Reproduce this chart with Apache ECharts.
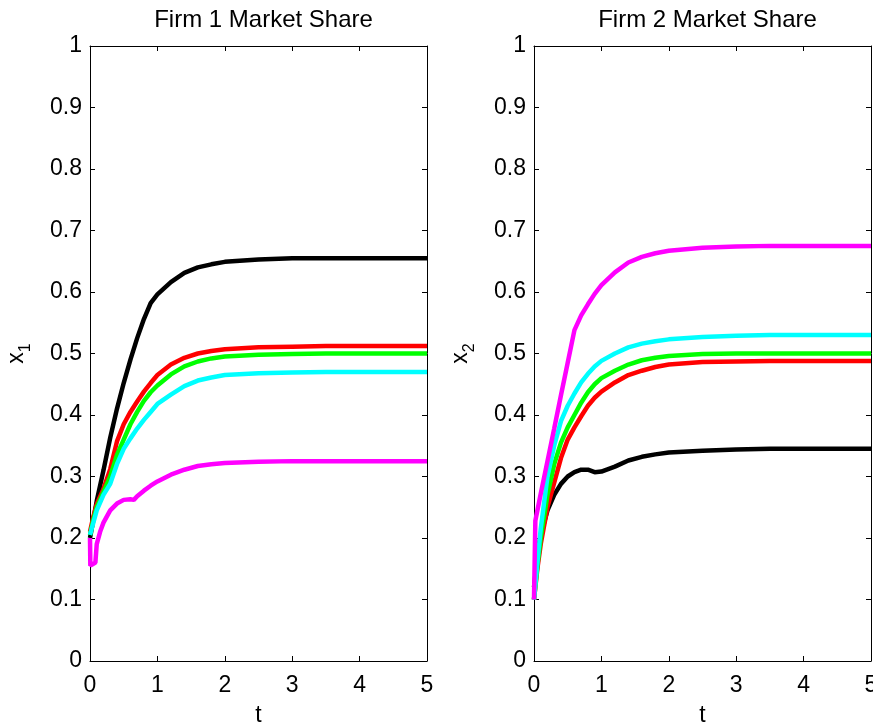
<!DOCTYPE html>
<html>
<head>
<meta charset="utf-8">
<title>Market Share</title>
<script src="https://cdn.jsdelivr.net/npm/echarts@6/dist/echarts.min.js"></script>
<style>
  html, body { margin: 0; padding: 0; background: #fff; }
  #chart { width: 873px; height: 722px; }
</style>
</head>
<body>
<div id="chart"></div>
<script>
// time grid shared by most trajectories
const T = [0, 0.05, 0.1, 0.2, 0.3, 0.4, 0.5, 0.6, 0.7, 0.8, 0.9, 1.0, 1.2, 1.4, 1.6, 1.8, 2.0, 2.5, 3.0, 3.5, 4.0, 4.5, 5.0];

// Firm 1 market share x1(t)
const firm1Black = [0.20, 0.23, 0.26, 0.31, 0.363, 0.41, 0.452, 0.49, 0.525, 0.556, 0.582, 0.596, 0.616, 0.631, 0.640, 0.645, 0.649, 0.653, 0.655, 0.655, 0.655, 0.655, 0.655];
const firm1Red   = [0.21, 0.235, 0.255, 0.28, 0.312, 0.357, 0.385, 0.405, 0.422, 0.438, 0.452, 0.465, 0.482, 0.493, 0.500, 0.504, 0.507, 0.510, 0.511, 0.512, 0.512, 0.512, 0.512];
const firm1Green = [0.205, 0.23, 0.25, 0.275, 0.30, 0.335, 0.36, 0.385, 0.405, 0.423, 0.437, 0.448, 0.466, 0.479, 0.487, 0.492, 0.495, 0.498, 0.499, 0.500, 0.500, 0.500, 0.500];
const firm1Cyan  = [0.205, 0.225, 0.245, 0.27, 0.288, 0.32, 0.345, 0.362, 0.378, 0.392, 0.405, 0.418, 0.433, 0.447, 0.456, 0.461, 0.465, 0.468, 0.469, 0.470, 0.470, 0.470, 0.470];
const tMagenta1  = [0, 0.005, 0.08, 0.1, 0.15, 0.2, 0.3, 0.4, 0.5, 0.6, 0.65, 0.7, 0.8, 0.9, 1.0, 1.2, 1.4, 1.6, 1.8, 2.0, 2.5, 3.0, 3.5, 4.0, 4.5, 5.0];
const firm1Magenta = [0.20, 0.155, 0.16, 0.19, 0.21, 0.225, 0.245, 0.256, 0.262, 0.263, 0.262, 0.268, 0.277, 0.285, 0.292, 0.303, 0.311, 0.317, 0.320, 0.322, 0.324, 0.325, 0.325, 0.325, 0.325, 0.325];

// Firm 2 market share x2(t)
const firm2Black = [0.12, 0.17, 0.205, 0.245, 0.27, 0.288, 0.30, 0.307, 0.311, 0.311, 0.307, 0.308, 0.316, 0.326, 0.332, 0.336, 0.339, 0.342, 0.344, 0.345, 0.345, 0.345, 0.345];
const firm2Red   = [0.10, 0.15, 0.19, 0.25, 0.29, 0.33, 0.36, 0.38, 0.398, 0.415, 0.428, 0.438, 0.453, 0.465, 0.472, 0.478, 0.482, 0.486, 0.487, 0.488, 0.488, 0.488, 0.488];
const firm2Green = [0.10, 0.155, 0.20, 0.27, 0.32, 0.355, 0.38, 0.40, 0.42, 0.437, 0.450, 0.460, 0.472, 0.482, 0.489, 0.493, 0.496, 0.499, 0.500, 0.500, 0.500, 0.500, 0.500];
const firm2Cyan  = [0.10, 0.16, 0.215, 0.30, 0.35, 0.39, 0.415, 0.435, 0.453, 0.467, 0.479, 0.488, 0.500, 0.510, 0.516, 0.520, 0.523, 0.527, 0.529, 0.530, 0.530, 0.530, 0.530];
const tMagenta2  = [0, 0.02, 0.1, 0.2, 0.3, 0.4, 0.5, 0.6, 0.7, 0.8, 0.9, 1.0, 1.2, 1.4, 1.6, 1.8, 2.0, 2.5, 3.0, 3.5, 4.0, 4.5, 5.0];
const firm2Magenta = [0.10, 0.228, 0.272, 0.325, 0.378, 0.432, 0.485, 0.538, 0.562, 0.580, 0.597, 0.611, 0.632, 0.648, 0.657, 0.663, 0.667, 0.672, 0.674, 0.675, 0.675, 0.675, 0.675];

const titles = ['Firm 1 Market Share', 'Firm 2 Market Share'];
const yNames = ['1', '2'];
const colors = { black: '#000000', red: '#ff0000', green: '#00ff00', cyan: '#00ffff', magenta: '#ff00ff' };

const FONT = 'Liberation Sans, Arial, Helvetica, sans-serif';
const grids = [
  { left: 90, top: 46, width: 337, height: 615, outerBoundsMode: 'none', containLabel: false },
  { left: 534, top: 46, width: 337, height: 615, outerBoundsMode: 'none', containLabel: false }
];

function pairs(ts, vs) { return ts.map((t, i) => [t, vs[i]]); }

const tickStyle = { show: true, inside: true, length: 5, lineStyle: { color: '#000', width: 1 } };
const lineStyle = { show: true, onZero: false, lineStyle: { color: '#000', width: 1 } };

const xAxes = [], yAxes = [];
grids.forEach((g, i) => {
  xAxes.push({
    type: 'value', gridIndex: i, min: 0, max: 5, interval: 1, position: 'bottom',
    axisLine: lineStyle, axisTick: tickStyle, splitLine: { show: false },
    axisLabel: { color: '#000', fontSize: 23, fontFamily: FONT, margin: 13 },
    name: 't', nameLocation: 'middle', nameGap: 43,
    nameTextStyle: { color: '#000', fontSize: 23, fontFamily: FONT }
  });
  xAxes.push({
    type: 'value', gridIndex: i, min: 0, max: 5, interval: 1, position: 'top',
    axisLine: lineStyle, axisTick: tickStyle, splitLine: { show: false }, axisLabel: { show: false }
  });
  yAxes.push({
    type: 'value', gridIndex: i, min: 0, max: 1, interval: 0.1, position: 'left',
    axisLine: lineStyle, axisTick: tickStyle, splitLine: { show: false },
    axisLabel: {
      color: '#000', fontSize: 23, fontFamily: FONT, margin: 8,
      formatter: v => String(Math.round(v * 10) / 10)
    },
    name: '{x|x}{s|' + yNames[i] + '}', nameLocation: 'middle', nameGap: 60, nameRotate: 90,
    nameTextStyle: {
      color: '#000', fontFamily: FONT,
      rich: {
        x: { fontSize: 23, fontFamily: FONT, color: '#000', lineHeight: 26 },
        s: { fontSize: 16, fontFamily: FONT, color: '#000', lineHeight: 26, padding: [18, 0, 0, 0] }
      }
    }
  });
  yAxes.push({
    type: 'value', gridIndex: i, min: 0, max: 1, interval: 0.1, position: 'right',
    axisLine: lineStyle, axisTick: tickStyle, splitLine: { show: false }, axisLabel: { show: false }
  });
});

function curve(idx, name, ts, vs, color) {
  return {
    type: 'line', name: name, xAxisIndex: idx * 2, yAxisIndex: idx * 2,
    data: pairs(ts, vs), showSymbol: false, symbol: 'none', smooth: false,
    lineStyle: { color: color, width: 4.5 }, itemStyle: { color: color },
    clip: true, z: 2
  };
}

const series = [
  curve(0, 'black', T, firm1Black, colors.black),
  curve(0, 'red', T, firm1Red, colors.red),
  curve(0, 'green', T, firm1Green, colors.green),
  curve(0, 'cyan', T, firm1Cyan, colors.cyan),
  curve(0, 'magenta', tMagenta1, firm1Magenta, colors.magenta),
  curve(1, 'black', T, firm2Black, colors.black),
  curve(1, 'red', T, firm2Red, colors.red),
  curve(1, 'green', T, firm2Green, colors.green),
  curve(1, 'cyan', T, firm2Cyan, colors.cyan),
  curve(1, 'magenta', tMagenta2, firm2Magenta, colors.magenta)
];

const chart = echarts.init(document.getElementById('chart'), null, { renderer: 'canvas' });
chart.setOption({
  animation: false,
  backgroundColor: '#ffffff',
  title: titles.map((t, i) => ({
    text: t, left: grids[i].left + grids[i].width / 2, top: 3, textAlign: 'center',
    textStyle: { color: '#000', fontSize: 24, fontWeight: 'normal', fontFamily: FONT }
  })),
  grid: grids,
  xAxis: xAxes,
  yAxis: yAxes,
  series: series
});
</script>
</body>
</html>
